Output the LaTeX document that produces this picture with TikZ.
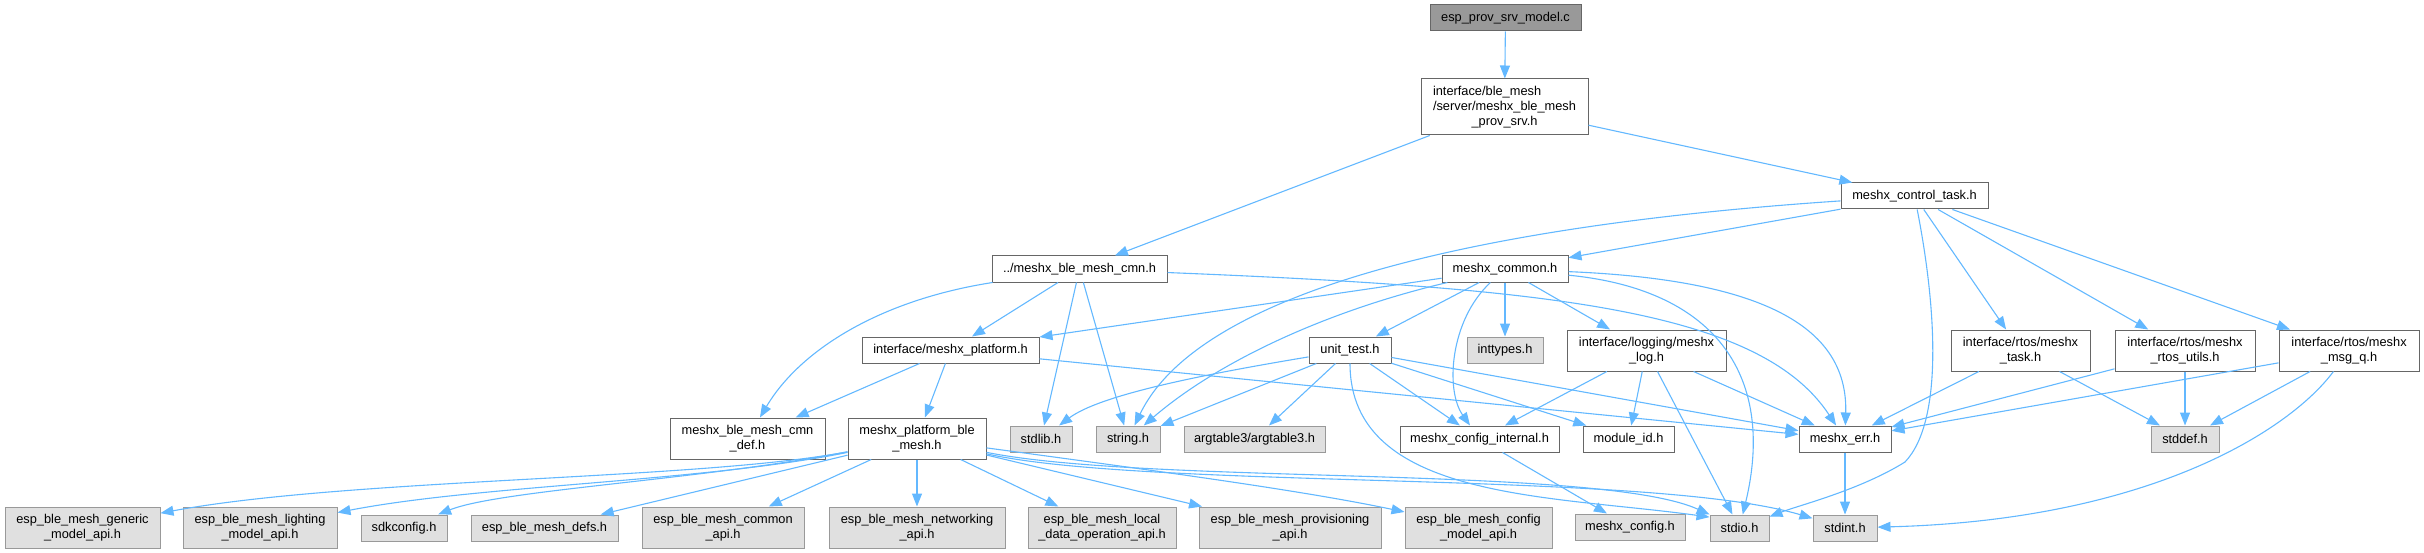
\documentclass[tikz,border=0pt]{standalone}
\usepackage{fontspec}
\setmainfont{Liberation Sans}
\usetikzlibrary{arrows.meta}
\definecolor{eb}{HTML}{63B8FF}
\definecolor{cdark}{HTML}{666666}
\definecolor{cmid}{HTML}{999999}
\definecolor{clight}{HTML}{E0E0E0}
\newcommand\nodefont{\fontsize{12.8pt}{15.3pt}\selectfont}
\newlength\plen
\tikzset{
  basebox/.style={rectangle, inner sep=0pt, font=\nodefont, align=center, line width=1pt, text=black},
  wn/.style={basebox, draw=cdark, fill=white},
  gn/.style={basebox, draw=cmid, fill=clight},
  tn/.style={basebox, draw=cdark, fill=cmid},
  e/.style={draw=eb, line width=1.1pt, -{Triangle[length=13pt,width=10pt]}},
}
\begin{document}
\begin{tikzpicture}[x=1pt,y=-1pt]
\useasboundingbox (0,0) rectangle (2424,553);
% row 0-1
\node[tn, minimum width=151pt, minimum height=26pt] (top) at (1505.5,18) {esp\_prov\_srv\_model.c};
\node[wn, minimum width=167pt, minimum height=56pt] (provsrv) at (1504.5,107)
  {\settowidth\plen{/server/meshx\_ble\_mesh}\makebox[\plen][l]{interface/ble\_mesh}\\/server/meshx\_ble\_mesh\\\_prov\_srv.h};
% row 2
\node[wn, minimum width=147pt, minimum height=26pt] (ctrl) at (1914.5,196) {meshx\_control\_task.h};
\node[wn, minimum width=175pt, minimum height=26pt] (cmn) at (1079.5,269) {../meshx\_ble\_mesh\_cmn.h};
\node[wn, minimum width=126pt, minimum height=26pt] (common) at (1505,269) {meshx\_common.h};
% row 3
\node[wn, minimum width=177pt, minimum height=26pt] (platform) at (950.5,350) {interface/meshx\_platform.h};
\node[wn, minimum width=82pt, minimum height=26pt] (unittest) at (1350,350) {unit\_test.h};
\node[gn, minimum width=76pt, minimum height=26pt] (inttypes) at (1505,350) {inttypes.h};
\node[wn, minimum width=159pt, minimum height=41pt] (log) at (1646.5,350.5) {interface/logging/meshx\\\_log.h};
\node[wn, minimum width=139pt, minimum height=41pt] (task) at (2020.5,350.5) {interface/rtos/meshx\\\_task.h};
\node[wn, minimum width=140pt, minimum height=41pt] (rtos) at (2185,350.5) {interface/rtos/meshx\\\_rtos\_utils.h};
\node[wn, minimum width=140pt, minimum height=41pt] (msgq) at (2349,350.5) {interface/rtos/meshx\\\_msg\_q.h};
% row 4
\node[wn, minimum width=155pt, minimum height=41pt] (cmndef) at (747.5,438.5) {meshx\_ble\_mesh\_cmn\\\_def.h};
\node[wn, minimum width=138pt, minimum height=41pt] (pbm) at (917,438.5) {meshx\_platform\_ble\\\_mesh.h};
\node[gn, minimum width=62pt, minimum height=26pt] (stdlib) at (1041,439) {stdlib.h};
\node[gn, minimum width=64pt, minimum height=26pt] (string) at (1128,439) {string.h};
\node[gn, minimum width=141pt, minimum height=26pt] (argtable) at (1254.5,439) {argtable3/argtable3.h};
\node[wn, minimum width=159pt, minimum height=26pt] (cfgint) at (1479.5,439) {meshx\_config\_internal.h};
\node[wn, minimum width=91pt, minimum height=26pt] (moduleid) at (1628.5,439) {module\_id.h};
\node[wn, minimum width=92pt, minimum height=26pt] (err) at (1845,439) {meshx\_err.h};
\node[gn, minimum width=68pt, minimum height=26pt] (stddef) at (2185,439) {stddef.h};
% row 5
\node[gn, minimum width=155pt, minimum height=41pt] (generic) at (82.5,527.5) {esp\_ble\_mesh\_generic\\\_model\_api.h};
\node[gn, minimum width=154pt, minimum height=41pt] (lighting) at (260,527.5) {esp\_ble\_mesh\_lighting\\\_model\_api.h};
\node[gn, minimum width=86pt, minimum height=26pt] (sdkconfig) at (404,528) {sdkconfig.h};
\node[gn, minimum width=147pt, minimum height=26pt] (defs) at (544.5,528) {esp\_ble\_mesh\_defs.h};
\node[gn, minimum width=162pt, minimum height=41pt] (commonapi) at (723,527.5) {esp\_ble\_mesh\_common\\\_api.h};
\node[gn, minimum width=176pt, minimum height=41pt] (networking) at (917,527.5) {esp\_ble\_mesh\_networking\\\_api.h};
\node[gn, minimum width=148pt, minimum height=41pt] (localdata) at (1102,527.5) {esp\_ble\_mesh\_local\\\_data\_operation\_api.h};
\node[gn, minimum width=182pt, minimum height=41pt] (prov) at (1290,527.5) {esp\_ble\_mesh\_provisioning\\\_api.h};
\node[gn, minimum width=147pt, minimum height=41pt] (cfgmodel) at (1478.5,527.5) {esp\_ble\_mesh\_config\\\_model\_api.h};
\node[gn, minimum width=110pt, minimum height=26pt] (meshxconfig) at (1630,527) {meshx\_config.h};
\node[gn, minimum width=59pt, minimum height=26pt] (stdio) at (1739.5,528) {stdio.h};
\node[gn, minimum width=64pt, minimum height=26pt] (stdint) at (1845,528) {stdint.h};
% edges
\draw[e] (top) -- (provsrv);
\draw[e] (provsrv) -- (cmn);
\draw[e] (provsrv) -- (ctrl);
\draw[e] (ctrl) -- (common);
\draw[e] (ctrl) .. controls (1480,225) and (1200,290) .. (string);
\draw[e] (ctrl) .. controls (1935,300) and (1945,420) .. (1905,462) .. controls (1860,490) and (1800,505) .. (stdio);
\draw[e] (ctrl) -- (task);
\draw[e] (ctrl) -- (rtos);
\draw[e] (ctrl) -- (msgq);
\draw[e] (common) -- (platform);
\draw[e] (common) .. controls (1330,310) and (1220,360) .. (string);
\draw[e] (common) -- (unittest);
\draw[e] (common) .. controls (1450,320) and (1445,390) .. (cfgint);
\draw[e] (common) -- (inttypes);
\draw[e] (common) -- (log);
\draw[e] (common) .. controls (1770,280) and (1848,330) .. (err);
\draw[e] (common) .. controls (1720,290) and (1775,380) .. (stdio);
\draw[e] (cmn) -- (platform);
\draw[e] (cmn) .. controls (880,300) and (800,350) .. (cmndef);
\draw[e] (cmn) -- (stdlib);
\draw[e] (cmn) -- (string);
\draw[e] (cmn) .. controls (1550,288) and (1760,310) .. (err);
\draw[e] (platform) -- (cmndef);
\draw[e] (platform) -- (pbm);
\draw[e] (platform) -- (err);
\draw[e] (unittest) .. controls (1200,375) and (1100,395) .. (stdlib);
\draw[e] (unittest) -- (string);
\draw[e] (unittest) -- (argtable);
\draw[e] (unittest) .. controls (1350,500) and (1550,495) .. (stdio.160);
\draw[e] (unittest) -- (cfgint);
\draw[e] (unittest) -- (moduleid);
\draw[e] (unittest) -- (err);
\draw[e] (log) -- (cfgint);
\draw[e] (log) -- (moduleid);
\draw[e] (log) -- (stdio);
\draw[e] (log) -- (err);
\draw[e] (cfgint) -- (meshxconfig);
\draw[e] (err) -- (stdint);
\draw[e] (task) -- (err);
\draw[e] (task) -- (stddef);
\draw[e] (rtos) -- (err);
\draw[e] (rtos) -- (stddef);
\draw[e] (msgq) -- (err);
\draw[e] (msgq) -- (stddef);
\draw[e] (msgq) .. controls (2290,430) and (2150,520) .. (stdint);
\draw[e] (pbm) .. controls (700,480) and (350,478) .. (generic);
\draw[e] (pbm) .. controls (700,482) and (480,485) .. (lighting);
\draw[e] (pbm) .. controls (700,480) and (500,490) .. (sdkconfig);
\draw[e] (pbm) -- (defs);
\draw[e] (pbm) -- (commonapi);
\draw[e] (pbm) -- (networking);
\draw[e] (pbm) -- (localdata);
\draw[e] (pbm) -- (prov);
\draw[e] (pbm) .. controls (1150,470) and (1300,490) .. (cfgmodel);
\draw[e] (pbm) .. controls (1150,485) and (1600,465) .. (stdio);
\draw[e] (pbm) .. controls (1150,490) and (1650,470) .. (stdint);
\end{tikzpicture}
\end{document}
